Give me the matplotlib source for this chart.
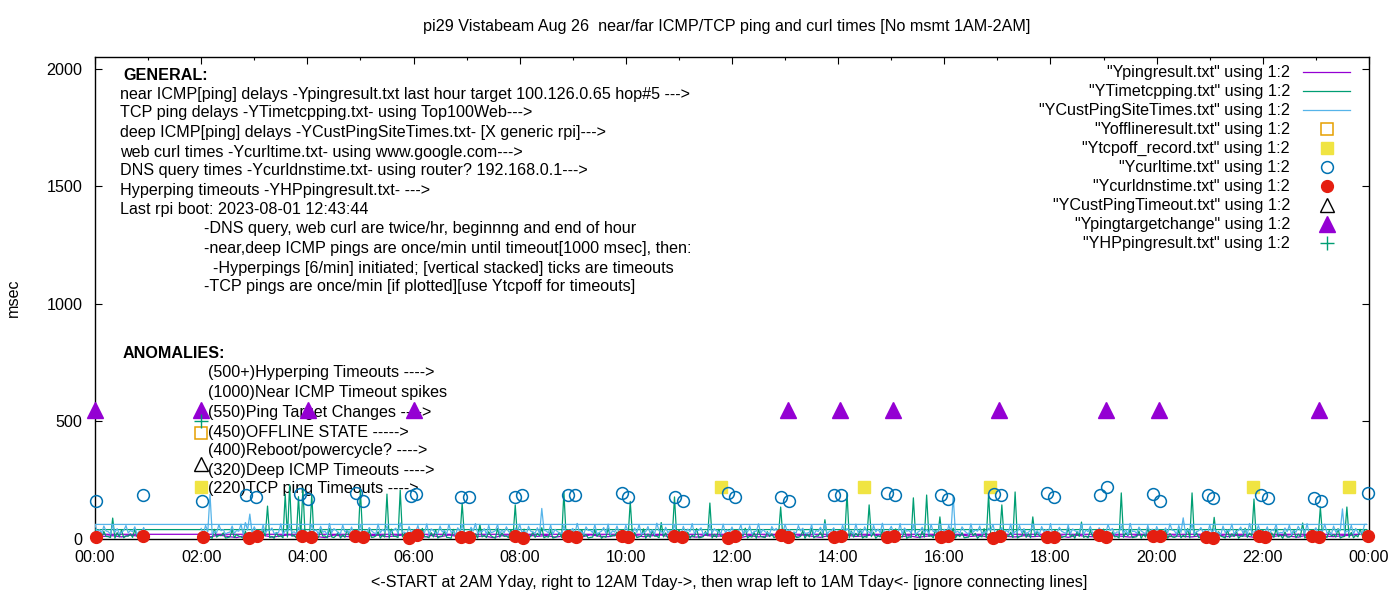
import numpy as np
import matplotlib
matplotlib.use("Agg")
import matplotlib.pyplot as plt

plt.rcParams['font.family'] = ['Liberation Sans', 'DejaVu Sans']

W, H = 1400, 600
FS = 11.6

# ---------------- data ----------------
TITLE = "pi29 Vistabeam Aug 26  near/far ICMP/TCP ping and curl times [No msmt 1AM-2AM]"
XLABEL = "<-START at 2AM Yday, right to 12AM Tday->, then wrap left to 1AM Tday<- [ignore connecting lines]"
YLABEL = "msec"

HOUR_TICKS = list(range(0, 25, 2))
HOUR_LABELS = ["00:00", "02:00", "04:00", "06:00", "08:00", "10:00", "12:00",
               "14:00", "16:00", "18:00", "20:00", "22:00", "00:00"]
Y_TICKS = [0, 500, 1000, 1500, 2000]

# hours in file order: start 2AM yesterday -> midnight, then wrap to 0AM-1AM today
HOUR_ORDER = list(range(2, 24)) + [0]

# YTimetcpping.txt (TCP ping, msec): samples at :00,:05,...,:55 of each hour in HOUR_ORDER
TCP_MS_A = [
    12, 30, 8, 41, 15, 26, 6, 38, 19, 9, 33, 14,
    22, 7, 35, 140, 11, 28, 14, 191, 230, 16, 180, 217,
    25, 191, 9, 37, 13, 44, 6, 29, 18, 40, 10, 27,
    208, 12, 36, 8, 31, 17, 191, 42, 11, 208, 24, 7,
    30, 14, 45, 9, 27, 38, 12, 33, 6, 41, 19, 153,
    10, 36, 22, 62, 15, 31, 8, 44, 26, 13, 39, 145,
    17, 42, 9, 30, 24, 48, 11, 35, 7, 28, 200, 20,
    33, 12, 40, 19, 7, 37, 25, 11, 46, 16, 30, 8,
    14, 160, 28, 9, 43, 21, 35, 12, 70, 26, 8, 179,
    38, 11, 29, 16, 44, 7, 32, 153, 20, 41, 13, 25,
    9, 34, 18, 46, 12, 27, 39, 8, 31, 22, 15, 136,
    40, 16, 28, 7, 35, 21, 45, 13, 30, 82, 10, 37,
    19, 8, 196, 33, 24, 42, 11, 145, 29, 14, 37, 6,
    28, 43, 12, 36, 9, 175, 21, 33, 187, 15, 40, 94,
    11, 30, 46, 18, 27, 7, 38, 24, 13, 44, 191, 20,
    35, 145, 16, 29, 200, 10, 41, 22, 94, 33, 8, 27,
    14, 39, 25, 10, 47, 19, 32, 72, 12, 36, 23, 9,
    42, 17, 30, 11, 196, 26, 38, 8, 33, 20, 45, 13,
    29, 12, 41, 23, 7, 36, 16, 44, 196, 27, 10, 34,
    18, 92, 31, 9, 40, 22, 35, 13, 46, 25, 170, 15,
    37, 11, 26, 43, 16, 30, 8, 39, 21, 68, 14, 32,
    24, 136, 12, 35, 19, 44, 9, 136, 28, 16, 41, 40,
    40, 15, 32, 10, 89, 27, 38, 13, 22, 41, 8, 30,
]
# TCP ping samples at :02.5,:07.5,... of each hour in HOUR_ORDER
TCP_MS_B = [
    5, 11, 3, 8, 14, 4, 9, 6, 12, 3, 7, 10,
    4, 9, 13, 6, 3, 10, 5, 8, 12, 4, 7, 11,
    8, 3, 6, 12, 5, 9, 14, 4, 7, 11, 3, 6,
    10, 5, 7, 13, 4, 8, 3, 11, 6, 9, 15, 4,
    3, 8, 11, 5, 9, 4, 12, 7, 3, 10, 6, 13,
    7, 12, 4, 9, 6, 14, 3, 8, 11, 5, 9, 4,
    6, 3, 10, 7, 13, 5, 8, 4, 12, 6, 9, 11,
    9, 5, 12, 4, 8, 11, 3, 7, 10, 14, 5, 6,
    4, 10, 6, 13, 3, 7, 12, 5, 9, 4, 11, 8,
    12, 6, 3, 9, 5, 10, 14, 4, 7, 11, 3, 8,
    5, 9, 13, 4, 8, 3, 11, 6, 10, 5, 12, 7,
    8, 4, 7, 11, 3, 9, 5, 13, 6, 10, 4, 9,
    3, 11, 5, 8, 12, 4, 7, 10, 3, 9, 6, 14,
    10, 6, 9, 3, 7, 13, 4, 8, 11, 5, 9, 3,
    6, 12, 4, 10, 5, 8, 14, 3, 9, 6, 11, 7,
    9, 3, 11, 6, 4, 12, 7, 5, 10, 13, 4, 8,
    4, 8, 6, 13, 9, 3, 11, 7, 5, 12, 8, 3,
    11, 5, 9, 4, 7, 14, 6, 10, 3, 8, 12, 5,
    7, 13, 3, 9, 11, 5, 8, 4, 12, 6, 3, 10,
    5, 9, 12, 4, 6, 10, 3, 11, 7, 13, 5, 8,
    12, 4, 7, 10, 3, 8, 13, 5, 9, 4, 11, 6,
    3, 10, 6, 12, 8, 4, 11, 7, 5, 9, 13, 40,
    8, 4, 11, 6, 3, 9, 5, 12, 7, 10, 4, 6,
]

# YCustPingSiteTimes.txt (deep ICMP, msec): samples at :00,:05,... of each hour
CUST_MS_A = [
    45, 58, 190, 32, 61, 40, 27, 55, 36, 63, 70, 106,
    52, 29, 60, 38, 47, 26, 64, 35, 57, 31, 50, 42,
    28, 62, 39, 54, 33, 66, 44, 25, 59, 37, 51, 30,
    60, 35, 49, 27, 63, 41, 56, 32, 46, 68, 29, 53,
    38, 57, 31, 64, 43, 26, 55, 36, 62, 34, 48, 59,
    27, 50, 65, 33, 44, 58, 30, 61, 39, 52, 28, 47,
    63, 36, 54, 29, 48, 130, 34, 59, 41, 26, 57, 38,
    45, 66, 31, 52, 37, 60, 28, 49, 63, 35, 55, 30,
    58, 33, 47, 62, 27, 53, 40, 67, 32, 50, 36, 61,
    29, 54, 42, 65, 35, 48, 26, 59, 44, 31, 63, 39,
    51, 28, 60, 37, 56, 32, 64, 41, 27, 53, 45, 34,
    62, 40, 30, 57, 46, 25, 61, 36, 50, 66, 33, 48,
    35, 59, 44, 28, 63, 39, 52, 30, 58, 42, 67, 27,
    54, 31, 65, 47, 36, 60, 29, 50, 40, 62, 34, 56,
    41, 58, 183, 33, 52, 27, 64, 38, 55, 30, 46, 61,
    26, 49, 37, 63, 32, 57, 44, 29, 60, 35, 53, 40,
    65, 34, 50, 28, 59, 43, 31, 62, 38, 54, 27, 48,
    36, 61, 45, 30, 56, 39, 66, 33, 51, 28, 58, 42,
    53, 29, 47, 64, 35, 57, 90, 40, 62, 31, 49, 37,
    60, 44, 27, 55, 38, 63, 32, 51, 41, 66, 30, 57,
    33, 52, 40, 61, 28, 47, 59, 36, 54, 43, 65, 31,
    48, 37, 63, 30, 55, 41, 128, 34, 58, 45, 29, 62,
    62, 40, 55, 31, 60, 44, 28, 57, 36, 52, 33, 49,
]
# deep ICMP samples at :02.5,:07.5,... of each hour
CUST_MS_B = [
    22, 31, 19, 27, 35, 21, 29, 24, 33, 20, 38, 26,
    30, 18, 25, 36, 23, 28, 19, 34, 26, 22, 31, 20,
    24, 33, 21, 29, 18, 27, 37, 23, 30, 25, 19, 34,
    19, 28, 35, 22, 26, 31, 20, 38, 24, 29, 21, 27,
    32, 23, 27, 19, 36, 24, 30, 21, 28, 18, 33, 25,
    21, 34, 24, 30, 20, 27, 35, 22, 26, 31, 19, 29,
    28, 19, 33, 25, 22, 37, 26, 20, 32, 23, 28, 35,
    25, 30, 20, 36, 27, 21, 33, 24, 19, 29, 26, 22,
    33, 22, 28, 20, 31, 25, 19, 35, 23, 27, 32, 21,
    20, 27, 31, 23, 37, 19, 28, 25, 34, 22, 26, 30,
    26, 35, 22, 29, 21, 33, 24, 30, 20, 36, 23, 28,
    31, 20, 26, 34, 24, 29, 18, 32, 27, 21, 35, 23,
    23, 29, 37, 21, 28, 25, 32, 19, 30, 26, 22, 36,
    29, 24, 20, 33, 26, 19, 35, 27, 22, 31, 25, 20,
    22, 31, 27, 24, 36, 20, 29, 33, 21, 28, 38, 24,
    34, 21, 28, 19, 30, 26, 23, 37, 25, 20, 32, 27,
    20, 27, 33, 24, 22, 35, 28, 19, 31, 26, 23, 30,
    27, 36, 21, 29, 25, 19, 32, 24, 34, 22, 28, 20,
    31, 23, 26, 38, 20, 28, 24, 30, 21, 35, 27, 23,
    24, 30, 19, 27, 33, 22, 36, 25, 20, 29, 34, 26,
    28, 21, 35, 23, 26, 31, 19, 29, 37, 24, 22, 33,
    22, 33, 26, 20, 29, 35, 24, 31, 21, 27, 25, 62,
    30, 25, 34, 21, 28, 23, 36, 26, 31, 20, 27, 24,
]

# Ypingresult.txt (near ICMP, msec): 10-minute samples per hour in HOUR_ORDER
PING_MS = [
    14, 9, 17, 11, 6, 15,
    10, 16, 8, 13, 18, 7,
    15, 11, 6, 17, 12, 9,
    8, 14, 16, 10, 13, 18,
    12, 7, 15, 9, 17, 11,
    16, 10, 13, 6, 14, 12,
    9, 17, 11, 15, 8, 13,
    13, 8, 18, 12, 10, 16,
    7, 15, 10, 14, 17, 9,
    17, 12, 8, 16, 11, 14,
    11, 6, 15, 9, 13, 18,
    14, 10, 17, 12, 7, 15,
    8, 16, 11, 13, 18, 10,
    15, 9, 14, 7, 12, 16,
    10, 13, 17, 11, 15, 8,
    18, 11, 9, 14, 10, 13,
    12, 15, 7, 16, 11, 9,
    9, 14, 12, 8, 17, 15,
    16, 8, 13, 11, 9, 14,
    11, 17, 10, 15, 13, 7,
    13, 9, 16, 12, 8, 17,
    15, 12, 10, 14, 16, 20,
    20, 11, 14, 9, 16, 12,
]

# Ycurltime.txt (web curl, msec)
CURL_HOUR = [0.02, 0.91, 2.02, 2.85, 3.04, 3.87, 4.02, 4.91, 5.04, 5.95, 6.04,
             6.89, 7.04, 7.91, 8.04, 8.91, 9.04, 9.93, 10.05, 10.93, 11.07,
             11.93, 12.05, 12.93, 13.07, 13.92, 14.05, 14.92, 15.07, 15.94, 16.07,
             16.94, 17.07, 17.94, 18.07, 18.94, 19.07, 19.94, 20.07, 20.96, 21.07,
             21.96, 22.09, 22.96, 23.09, 23.98]
CURL_MS = [162, 187, 162, 187, 179, 191, 170, 196, 162, 183, 191,
           179, 179, 179, 187, 187, 187, 196, 179, 179, 162,
           196, 179, 179, 162, 187, 187, 196, 187, 187, 170,
           191, 187, 196, 179, 187, 221, 191, 162, 187, 174,
           187, 174, 174, 162, 196]

# Ycurldnstime.txt (DNS query, msec)
DNS_HOUR = [0.02, 0.91, 2.04, 2.9, 3.05, 3.9, 4.06, 4.9, 5.05, 5.92, 6.06,
            6.9, 7.05, 7.92, 8.06, 8.91, 9.06, 9.92, 10.05, 10.91, 11.06,
            11.93, 12.05, 12.92, 13.06, 13.93, 14.05, 14.92, 15.05, 15.93, 16.06,
            16.92, 17.05, 17.93, 18.06, 18.92, 19.05, 19.93, 20.06, 20.92, 21.06,
            21.93, 22.05, 22.92, 23.05, 23.98]
DNS_MS = [8, 12, 10, 6, 14, 11, 7, 13, 9, 5, 15,
          10, 8, 12, 6, 14, 9, 11, 7, 13, 10,
          6, 12, 15, 8, 10, 13, 7, 11, 9, 14,
          6, 12, 10, 8, 15, 7, 11, 13, 9, 6,
          12, 10, 14, 8, 11]

# Ypingtargetchange
TARGET_HOUR = [0.0, 2.0, 4.02, 6.0, 13.05, 14.03, 15.03, 17.03, 19.05, 20.05, 23.05]
TARGET_MS = [550, 550, 550, 550, 550, 550, 550, 550, 550, 550, 550]

# Ytcpoff_record.txt
TCPOFF_HOUR = [11.8, 14.48, 16.86, 21.81, 23.62]
TCPOFF_MS = [220, 220, 220, 220, 220]

# anomaly key markers (at 02:00)
KEY_HOUR = 2.0
KEY_HP_MS = 500
KEY_OFFLINE_MS = 450
KEY_CUSTTO_MS = 320
KEY_TCPOFF_MS = 220

LEGEND_LABELS = ['"Ypingresult.txt" using 1:2', '"YTimetcpping.txt" using 1:2',
                 '"YCustPingSiteTimes.txt" using 1:2', '"Yofflineresult.txt" using 1:2',
                 '"Ytcpoff_record.txt" using 1:2', '"Ycurltime.txt" using 1:2',
                 '"Ycurldnstime.txt" using 1:2', '"YCustPingTimeout.txt" using 1:2',
                 '"Ypingtargetchange" using 1:2', '"YHPpingresult.txt" using 1:2']

GENERAL_LINES = [
    "near ICMP[ping] delays -Ypingresult.txt last hour target 100.126.0.65 hop#5 --->",
    "TCP ping delays -YTimetcpping.txt- using Top100Web--->",
    "deep ICMP[ping] delays -YCustPingSiteTimes.txt- [X generic rpi]--->",
    "web curl times -Ycurltime.txt- using www.google.com--->",
    "DNS query times -Ycurldnstime.txt- using router? 192.168.0.1--->",
    "Hyperping timeouts -YHPpingresult.txt- --->",
    "Last rpi boot: 2023-08-01 12:43:44",
]
NOTE_LINES = [
    "-DNS query, web curl are twice/hr, beginnng and end of hour",
    "-near,deep ICMP pings are once/min until timeout[1000 msec], then:",
    "  -Hyperpings [6/min] initiated; [vertical stacked] ticks are timeouts",
    "-TCP pings are once/min [if plotted][use Ytcpoff for timeouts]",
]
ANOMALY_LINES = [
    "(500+)Hyperping Timeouts ---->",
    "(1000)Near ICMP Timeout spikes",
    "(550)Ping Target Changes ---->",
    "(450)OFFLINE STATE ----->",
    "(400)Reboot/powercycle? ---->",
    "(320)Deep ICMP Timeouts ---->",
    "(220)TCP ping Timeouts ---->",
]

# ---------------- styles ----------------
C_PURPLE = '#9400D3'
C_GREEN = '#009E73'
C_SKY = '#56B4E9'
C_ORANGE = '#E69F00'
C_YELLOW = '#F0E442'
C_BLUE = '#0072B2'
C_RED = '#E51E10'
C_BLACK = '#000000'


def times(per_hour, offset=0.0):
    return np.concatenate([h + (np.arange(per_hour) + offset) / per_hour for h in HOUR_ORDER])


def interleave(a, b):
    return np.column_stack([np.asarray(a, float), np.asarray(b, float)]).ravel()


fig = plt.figure(figsize=(W / 100, H / 100), dpi=100)
L, R, T, B = 95, 1369, 57, 539
ax = fig.add_axes([L / W, 1 - B / H, (R - L) / W, (B - T) / H])
ax.set_xlim(0, 24)
ax.set_ylim(0, 2050)


def fx(px):
    return px / W


def fy(py):
    return 1 - py / H


lw = 0.9
t5 = interleave(times(12), times(12, 0.5))
ax.plot(times(6), PING_MS, color=C_PURPLE, lw=lw, zorder=3)
ax.plot(t5, interleave(TCP_MS_A, TCP_MS_B), color=C_GREEN, lw=lw, zorder=4)
ax.plot(t5, interleave(CUST_MS_A, CUST_MS_B), color=C_SKY, lw=lw, zorder=5)

ms_circ = 8.5
mk = dict(ls='none', clip_on=False)
ax.plot(TCPOFF_HOUR, TCPOFF_MS, marker='s', ms=9, color=C_YELLOW, mec=C_YELLOW, zorder=6, **mk)
ax.plot(CURL_HOUR, CURL_MS, marker='o', ms=ms_circ, mfc='none', mec=C_BLUE, mew=1.1, zorder=7, **mk)
ax.plot(DNS_HOUR, DNS_MS, marker='o', ms=ms_circ, color=C_RED, mec=C_RED, zorder=8, **mk)
ax.plot(TARGET_HOUR, TARGET_MS, marker='^', ms=11, color=C_PURPLE, mec=C_PURPLE, zorder=9, **mk)

# anomaly key markers
ax.plot([KEY_HOUR], [KEY_OFFLINE_MS], marker='s', ms=9, mfc='none', mec=C_ORANGE, mew=1.1, zorder=6, **mk)
ax.plot([KEY_HOUR], [KEY_TCPOFF_MS], marker='s', ms=9, color=C_YELLOW, mec=C_YELLOW, zorder=6, **mk)
ax.plot([KEY_HOUR], [KEY_CUSTTO_MS], marker='^', ms=10, mfc='none', mec=C_BLACK, mew=1.0, zorder=9, **mk)
ax.plot([KEY_HOUR], [KEY_HP_MS], marker='+', ms=10, mec=C_GREEN, mew=1.0, zorder=10, **mk)

# axes styling
ax.set_xticks(HOUR_TICKS)
ax.set_xticklabels(HOUR_LABELS, fontsize=FS)
ax.set_xticks(range(1, 24, 2), minor=True)
ax.set_yticks(Y_TICKS)
ax.set_yticklabels([str(v) for v in Y_TICKS], fontsize=FS)
ax.tick_params(which='both', direction='in', top=True, right=True, width=0.8)
ax.tick_params(axis='x', which='major', length=5, pad=8)
ax.tick_params(axis='x', which='minor', length=2.5)
ax.tick_params(axis='y', which='major', length=5, pad=9)
for s in ax.spines.values():
    s.set_linewidth(1.0)
    s.set_zorder(2)

# titles / labels
fig.text(fx(727), fy(26), TITLE, ha='center', va='center', fontsize=FS)
fig.text(fx(729), fy(583), XLABEL, ha='center', va='center', fontsize=FS)
fig.text(fx(13), fy(298), YLABEL, ha='center', va='center', rotation=90, fontsize=FS)


def tx(px, py, s, bold=False):
    ax.text(fx(px), fy(py), s, transform=fig.transFigure, ha='left', va='center',
            fontsize=FS, fontweight='bold' if bold else 'normal', zorder=1)


tx(123, 75, "GENERAL:", bold=True)
gen_y = [94, 113, 132, 152, 171, 190, 209]
for y, s in zip(gen_y, GENERAL_LINES):
    tx(120, y, s)
note_y = [229, 248, 268, 287]
for y, s in zip(note_y, NOTE_LINES):
    tx(204, y, s)
tx(123, 354, "ANOMALIES:", bold=True)
an_y = [373, 392, 412, 432, 451, 470, 489]
for y, s in zip(an_y, ANOMALY_LINES):
    tx(208, y, s)

# legend (gnuplot style, right aligned text)
leg_y = [72 + 19.05 * i for i in range(10)]
for y, s in zip(leg_y, LEGEND_LABELS):
    ax.text(fx(1290), fy(y), s, transform=fig.transFigure, ha='right', va='center', fontsize=FS, zorder=1)
tf = fig.transFigure
line_cols = [C_PURPLE, C_GREEN, C_SKY]
for i, c in enumerate(line_cols):
    ax.plot([fx(1303), fx(1350)], [fy(leg_y[i])] * 2, color=c, lw=lw, transform=tf, clip_on=False)
mx = fx(1327)
ax.plot([mx], [fy(leg_y[3])], marker='s', ms=9, mfc='none', mec=C_ORANGE, mew=1.1, transform=tf, clip_on=False)
ax.plot([mx], [fy(leg_y[4])], marker='s', ms=9, color=C_YELLOW, mec=C_YELLOW, transform=tf, clip_on=False)
ax.plot([mx], [fy(leg_y[5])], marker='o', ms=ms_circ, mfc='none', mec=C_BLUE, mew=1.1, transform=tf, clip_on=False)
ax.plot([mx], [fy(leg_y[6])], marker='o', ms=ms_circ, color=C_RED, mec=C_RED, transform=tf, clip_on=False)
ax.plot([mx], [fy(leg_y[7])], marker='^', ms=10, mfc='none', mec=C_BLACK, mew=1.0, transform=tf, clip_on=False)
ax.plot([mx], [fy(leg_y[8])], marker='^', ms=11, color=C_PURPLE, mec=C_PURPLE, transform=tf, clip_on=False)
ax.plot([mx], [fy(leg_y[9])], marker='+', ms=10, mec=C_GREEN, mew=1.0, transform=tf, clip_on=False)

fig.savefig("out.png", dpi=100)
